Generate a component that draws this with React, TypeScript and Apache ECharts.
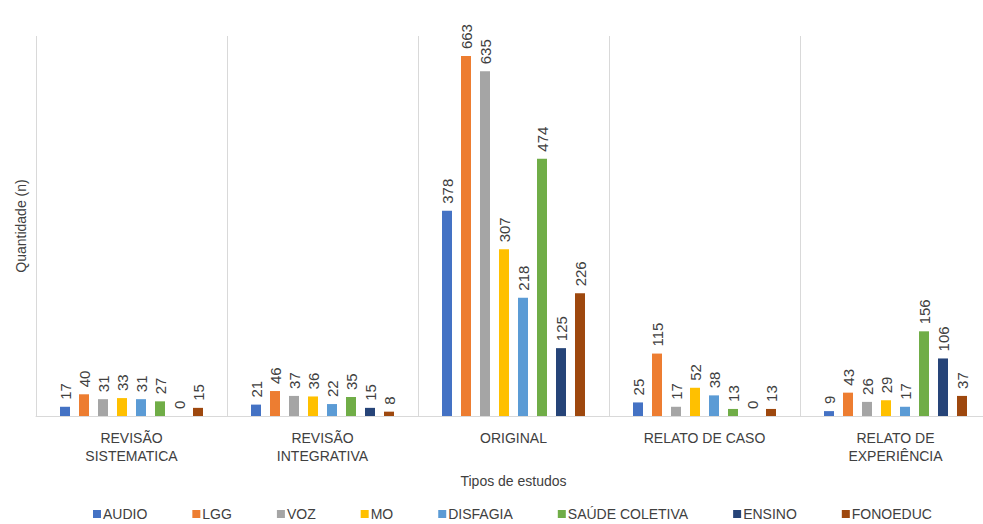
import React, { useEffect, useRef } from "react";
import * as echarts from "echarts";

const categories = ["REVISÃO\nSISTEMATICA", "REVISÃO\nINTEGRATIVA", "ORIGINAL", "RELATO DE CASO", "RELATO DE\nEXPERIÊNCIA"];
const seriesNames = ["AUDIO", "LGG", "VOZ", "MO", "DISFAGIA", "SAÚDE COLETIVA", "ENSINO", "FONOEDUC"];
const audio = [17, 21, 378, 25, 9];
const lgg = [40, 46, 663, 115, 43];
const voz = [31, 37, 635, 17, 26];
const mo = [33, 36, 307, 52, 29];
const disfagia = [31, 22, 218, 38, 17];
const saudeColetiva = [27, 35, 474, 13, 156];
const ensino = [0, 15, 125, 0, 106];
const fonoeduc = [15, 8, 226, 13, 37];
const seriesData = [audio, lgg, voz, mo, disfagia, saudeColetiva, ensino, fonoeduc];
const colors = ["#4472C4", "#ED7D31", "#A5A5A5", "#FFC000", "#5B9BD5", "#70AD47", "#264478", "#9E480E"];

export default function App() {
  const ref = useRef<HTMLDivElement>(null);
  useEffect(() => {
    if (!ref.current) return;
    const chart = echarts.init(ref.current, undefined, { renderer: "svg" });
    const font = "Arial, 'Liberation Sans', sans-serif";
    chart.setOption({
      animation: false,
      backgroundColor: "#ffffff",
      color: colors,
      textStyle: { fontFamily: font, color: "#404040" },
      grid: { left: 36, right: 0, top: 36, bottom: 108, containLabel: false },
      legend: {
        bottom: -2,
        left: 88,
        itemWidth: 8,
        itemHeight: 8,
        itemGap: 45,
        icon: "rect",
        textStyle: { fontSize: 14, color: "#404040", fontFamily: font, padding: [0, 0, 0, -3] },
        data: seriesNames,
      },
      xAxis: {
        type: "category",
        data: categories,
        name: "Tipos de estudos",
        nameLocation: "middle",
        nameGap: 58,
        nameTextStyle: { fontSize: 14, color: "#404040" },
        axisLine: { show: true, lineStyle: { color: "#d9d9d9" } },
        axisTick: { show: false },
        axisLabel: { fontSize: 14, color: "#404040", lineHeight: 18, margin: 13, interval: 0 },
        splitLine: { show: true, interval: 0, lineStyle: { color: "#d9d9d9" } },
      },
      yAxis: {
        type: "value",
        min: 0,
        max: 700,
        name: "Quantidade (n)",
        nameLocation: "middle",
        nameGap: 8,
        nameTextStyle: { fontSize: 14, color: "#404040" },
        axisLine: { show: false },
        axisTick: { show: false },
        axisLabel: { show: false },
        splitLine: { show: false },
      },
      series: seriesNames.map((name, i) => ({
        name,
        type: "bar",
        data: seriesData[i],
        barWidth: 10,
        barGap: "90%",
        barCategoryGap: "25%",
        itemStyle: { color: colors[i] },
        label: {
          show: true,
          position: "top",
          rotate: 90,
          align: "left",
          verticalAlign: "middle",
          distance: 7,
          fontSize: 15,
          color: "#404040",
          fontFamily: font,
        },
      })),
    });
    return () => chart.dispose();
  }, []);
  return (
    <div style={{ position: "absolute", left: 0, top: 0, width: 983, height: 524, overflow: "hidden", background: "#fff" }}>
      <div ref={ref} style={{ width: 991, height: 524 }} />
    </div>
  );
}
